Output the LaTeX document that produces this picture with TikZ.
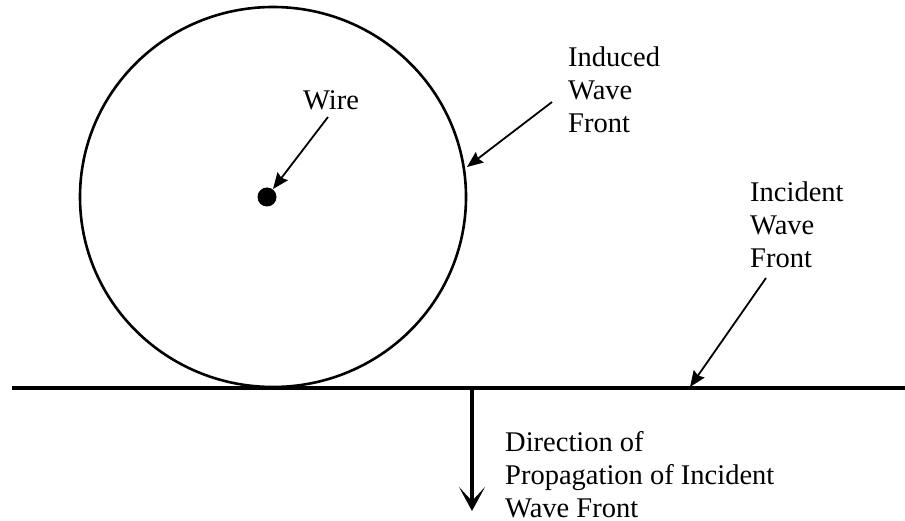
\documentclass[tikz,border=0pt]{standalone}
\usepackage{fontspec}
\setmainfont{Liberation Serif}
\usetikzlibrary{positioning,arrows.meta}

\begin{document}
\begin{tikzpicture}[
  x=1pt, y=-1pt,
  font=\fontsize{28.5}{33}\selectfont,
  lbl/.style={anchor=base west, align=left, inner sep=0pt},
  ptr/.style={-{Stealth[length=16pt,width=13pt,inset=2pt]}, line width=1.8pt},
  dir/.style={-{Stealth[length=24pt,width=26pt,inset=14pt]}, line width=3.5pt}
]
\useasboundingbox (0,0) rectangle (905,521);

% wave fronts
\coordinate (ctr) at (273,197);
\draw[line width=2.6pt] (ctr) circle [x radius=193, y radius=190];
\coordinate (gl) at (12,388);
\coordinate (gr) at (905,388);
\draw[line width=3.6pt] (gl) -- (gr);
\fill (267,197) circle (9.5) coordinate (wire);

% labels (anchored at the baseline of the last line)
\node[lbl] (lw)  at (303,110) {Wire};
\node[lbl] (lin) at (568,133) {Induced\\Wave\\Front};
\node[lbl] (lic) at (750,268) {Incident\\Wave\\Front};
\node[lbl] (ld)  at (505,517) {Direction of\\Propagation of Incident\\Wave Front};

% pointers
\coordinate (pw)  at (328,117);
\coordinate (tw)  at (273,189);
\coordinate (pin) at (552,102);
\coordinate (tin) at (467,167);
\coordinate (pic) at (766,278);
\coordinate (tic) at (690,387);
\coordinate (d0)  at (472,389);
\coordinate (d1)  at (472,511);
\draw[ptr] (pw) -- (tw);
\draw[ptr] (pin) -- (tin);
\draw[ptr] (pic) -- (tic);
\draw[dir] (d0) -- (d1);
\end{tikzpicture}
\end{document}
